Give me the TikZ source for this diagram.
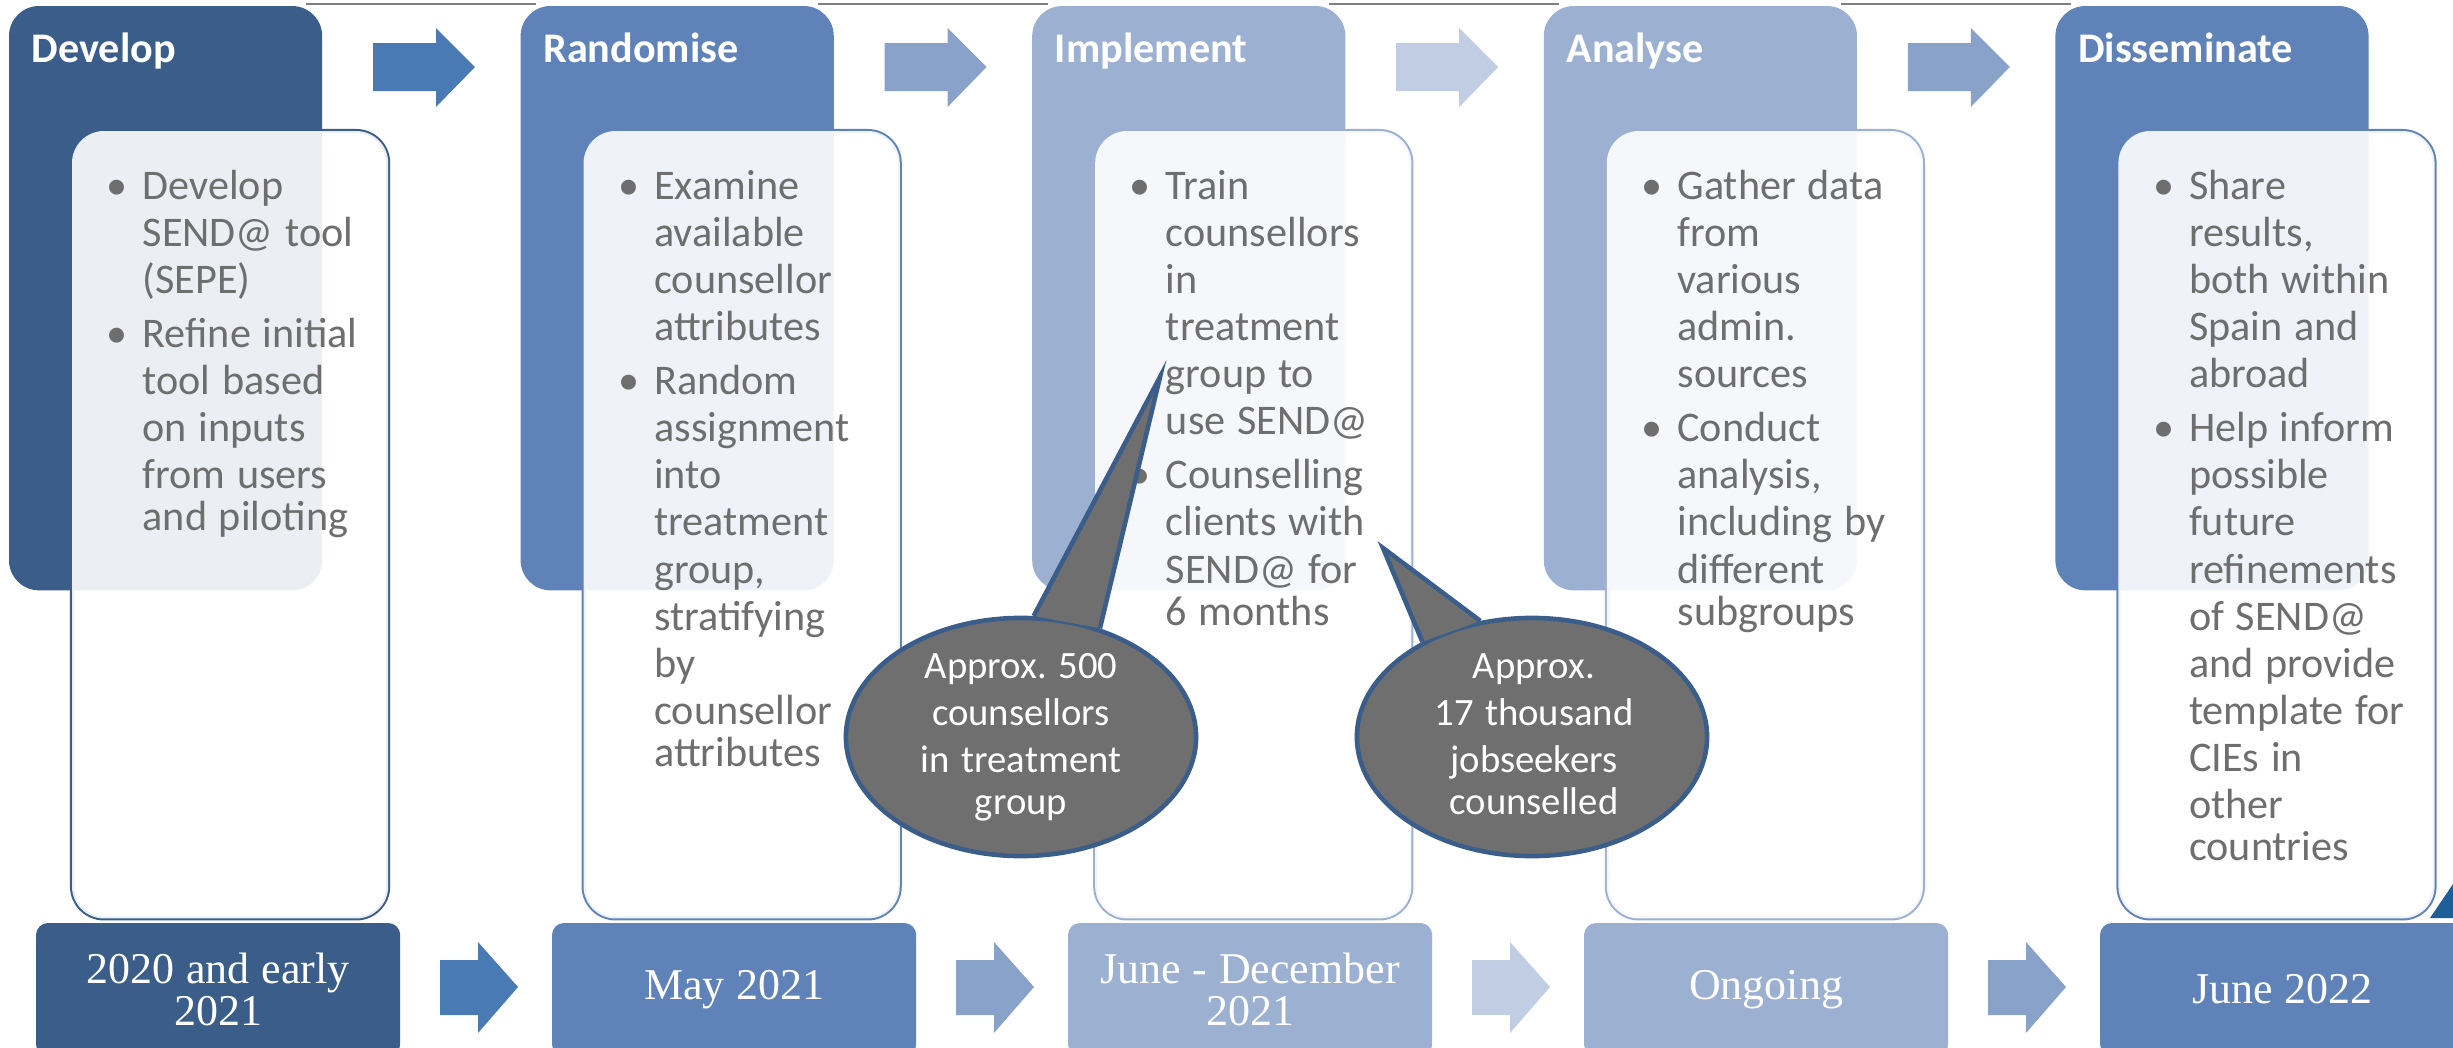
\documentclass[tikz,border=0pt]{standalone}
\usepackage{fontspec}
\setmainfont{Carlito}
\newfontfamily\datefont{Liberation Serif}
\usetikzlibrary{shapes.geometric}

\definecolor{phaseA}{HTML}{3A5D8A}
\definecolor{phaseB}{HTML}{5F82B8}
\definecolor{phaseC}{HTML}{9CB0D2}
\definecolor{arrowA}{HTML}{4A7AB4}
\definecolor{arrowB}{HTML}{89A2C9}
\definecolor{arrowC}{HTML}{C0CDE3}
\definecolor{bodygray}{HTML}{6E6E6E}
\definecolor{bubblegray}{HTML}{6F6F6F}
\definecolor{cornerblue}{HTML}{1F5F97}

\newcommand{\bodyfont}{\fontsize{12}{13.4}\selectfont\setlength{\parskip}{2pt}}
\newcommand{\bulletmark}{\leavevmode\llap{\makebox[0.36cm][l]{•}}}

\tikzset{
  header/.style={anchor=north west, inner sep=0pt, outer sep=0pt,
    minimum width=3.13cm, minimum height=5.84cm, rounded corners=0.3cm},
  innerframe/.style={anchor=north west, inner sep=0pt, outer sep=0pt,
    minimum width=3.16cm, minimum height=7.87cm, rounded corners=0.32cm},
  phasetitle/.style={anchor=base west, inner sep=0pt, text=white,
    font=\bfseries\fontsize{12}{14}\selectfont},
  bodytext/.style={anchor=base west, inner sep=0pt, text width=2.4cm,
    align=left, text=bodygray},
  datebox/.style={anchor=north west, inner sep=0pt, outer sep=0pt,
    minimum width=3.64cm, minimum height=1.33cm, rounded corners=0.12cm,
    text width=3.4cm, align=center, text=white},
  bubble/.style={ellipse, draw=phaseA, fill=bubblegray, line width=1.3pt,
    inner sep=0pt, minimum width=3.5cm, minimum height=2.38cm},
  tail/.style={draw=phaseA, fill=bubblegray, line width=1.3pt},
  notetext/.style={anchor=base, inner sep=0pt, text width=3.2cm,
    align=center, text=white},
  topline/.style={draw=gray, line width=0.6pt}
}

\begin{document}
\frenchspacing
\begin{tikzpicture}[x=0.01cm, y=-0.01cm]
\useasboundingbox (0,0) rectangle (2453,1048);
\clip (0,0) rectangle (2453,1048);

% thin lines over the gaps
\foreach \i in {0,...,3}
  \draw[topline] ({306+511.6*\i},4) -- ++(230,0);

% phase columns
\foreach \i/\c in {0/phaseA,1/phaseB,2/phaseC,3/phaseC,4/phaseB}
  \node[innerframe, draw=\c, line width=1.15pt] (frame\i) at ({72+511.6*\i},131) {};
\foreach \i/\c in {0/phaseA,1/phaseB,2/phaseC,3/phaseC,4/phaseB}
  \node[header, fill=\c] (head\i) at ({9+511.6*\i},6) {};
\foreach \i in {0,...,4}
  \node[innerframe, fill=white, fill opacity=0.9] (inner\i) at ({72+511.6*\i},131) {};

% arrows between phases
\foreach \i/\c in {0/arrowA,1/arrowB,2/arrowC,3/arrowB}
  \fill[\c] ({373+511.6*\i},43) -- ++(63,0) -- ++(0,-15) -- ++(39,39)
    -- ++(-39,40) -- ++(0,-16) -- ++(-63,0) -- cycle;

% titles
\foreach \i/\t in {0/Develop,1/Randomise,2/Implement,3/Analyse,4/Disseminate}
  \node[phasetitle] (title\i) at ({31+511.6*\i},62) {\t};

% bullet texts
\node[bodytext] (text0) at (142,199) {\bodyfont\bulletmark Develop\\SEND@ tool\\(SEPE)\par
  \bulletmark Refine initial\\tool based\\on inputs\\from users\\and piloting};
\node[bodytext] (text1) at (653.6,199) {\bodyfont\bulletmark Examine\\available\\counsellor\\attributes\par
  \bulletmark Random\\assignment\\into\\treatment\\group,\\stratifying\\by\\counsellor\\attributes};
\node[bodytext] (text2) at (1165.2,199) {\bodyfont\bulletmark Train\\counsellors\\in\\treatment\\group to\\use SEND@\par
  \bulletmark Counselling\\clients with\\SEND@ for\\6 months};
\node[bodytext] (text3) at (1676.8,199) {\bodyfont\bulletmark Gather data\\from\\various\\admin.\\sources\par
  \bulletmark Conduct\\analysis,\\including by\\different\\subgroups};
\node[bodytext] (text4) at (2188.4,199) {\bodyfont\bulletmark Share\\results,\\both within\\Spain and\\abroad\par
  \bulletmark Help inform\\possible\\future\\refinements\\of SEND@\\and provide\\template for\\CIEs in\\other\\countries};

% dates
\node[datebox, fill=phaseA] (date0) at (36,923) {\datefont\fontsize{12.5}{11.6}\selectfont 2020 and early\\2021};
\node[datebox, fill=phaseB] (date1) at (552,923) {\datefont\fontsize{12.5}{11.6}\selectfont May 2021};
\node[datebox, fill=phaseC] (date2) at (1068,923) {\datefont\fontsize{12.5}{11.6}\selectfont June - December\\2021};
\node[datebox, fill=phaseC] (date3) at (1584,923) {\datefont\fontsize{12.5}{11.6}\selectfont Ongoing};
\node[datebox, fill=phaseB] (date4) at (2100,923) {\datefont\fontsize{12.5}{11.6}\selectfont June 2022};
\foreach \i/\c in {0/arrowA,1/arrowB,2/arrowC,3/arrowB}
  \fill[\c] ({440+516*\i},960) -- ++(38,0) -- ++(0,-18) -- ++(40,45)
    -- ++(-40,46) -- ++(0,-18) -- ++(-38,0) -- cycle;

\fill[cornerblue] (2430,918) -- (2453,884) -- (2453,918) -- cycle;

% callouts
\coordinate (tipA) at (1160,377);
\coordinate (tipB) at (1383,548);
\node[bubble] (bubbleA) at (1021,737) {};
\filldraw[tail] (bubbleA.84.6) -- (tipA) -- (bubbleA.54.4);
\node[notetext] (noteA) at (1021,678) {\fontsize{11}{13.4}\selectfont Approx. 500\\counsellors\\in treatment\\group};
\node[bubble] (bubbleB) at (1532,737) {};
\filldraw[tail] (bubbleB.139.8) -- (tipB) -- (bubbleB.114.1);
\node[notetext] (noteB) at (1534,678) {\fontsize{11}{13.4}\selectfont Approx.\\17 thousand\\jobseekers\\counselled};
\end{tikzpicture}
\end{document}
